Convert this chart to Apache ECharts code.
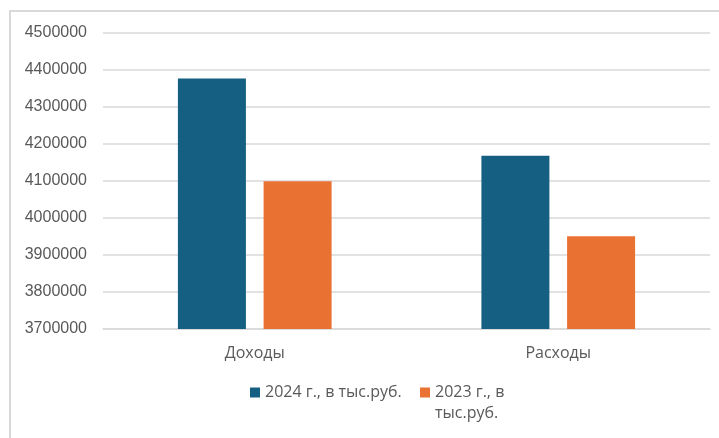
<!DOCTYPE html>
<html>
<head>
<meta charset="utf-8">
<script src="https://cdn.jsdelivr.net/npm/echarts@6/dist/echarts.min.js"></script>
<style>
html,body{margin:0;padding:0;background:#fff;overflow:hidden;}
#frame{position:absolute;left:9px;top:10px;width:800px;height:500px;border:2px solid #d9d9d9;box-sizing:border-box;}
#chart{position:absolute;left:0;top:0;width:719px;height:438px;}
</style>
</head>
<body>
<div id="frame"></div>
<div id="chart"></div>
<script>
var categories = ['Доходы', 'Расходы'];
var series2024 = [4377000, 4168000];
var series2023 = [4099000, 3951000];
var seriesNames = ['2024 г., в тыс.руб.', '2023 г., в тыс.руб.'];
var yMin = 3700000, yMax = 4500000, yStep = 100000;

var chart = echarts.init(document.getElementById('chart'), null, {renderer: 'canvas'});
var textColor = '#595959';
var legendText = {color: textColor, fontSize: 16, fontFamily: 'Open Sans', lineHeight: 21};
chart.setOption({
  backgroundColor: 'transparent',
  animation: false,
  grid: {left: 103, right: 9, top: 33, bottom: 109, containLabel: false},
  legend: [{
    data: [seriesNames[0]],
    left: 245,
    top: 377,
    itemWidth: 10,
    itemHeight: 10,
    icon: 'rect',
    textStyle: legendText
  }, {
    data: [seriesNames[1]],
    left: 415,
    top: 356,
    itemWidth: 10,
    itemHeight: 10,
    icon: 'rect',
    textStyle: legendText,
    formatter: function () { return '\n2023 г., в\nтыс.руб.'; }
  }],
  xAxis: {
    type: 'category',
    data: categories,
    axisLine: {lineStyle: {color: '#d9d9d9', width: 1.5}},
    axisTick: {show: false},
    axisLabel: {color: textColor, fontSize: 16, fontFamily: 'Open Sans', margin: 16}
  },
  yAxis: {
    type: 'value',
    min: yMin,
    max: yMax,
    interval: yStep,
    axisLine: {show: false},
    axisTick: {show: false},
    splitLine: {lineStyle: {color: '#d9d9d9', width: 1.5}},
    axisLabel: {color: textColor, fontSize: 16, fontFamily: 'Liberation Sans', margin: 16,
      formatter: function (v) { return String(v); }}
  },
  series: [
    {name: seriesNames[0], type: 'bar', data: series2024, barWidth: 68, barGap: '26%',
     itemStyle: {color: '#156082'}},
    {name: seriesNames[1], type: 'bar', data: series2023, barWidth: 68,
     itemStyle: {color: '#E97132'}}
  ]
});
</script>
</body>
</html>
